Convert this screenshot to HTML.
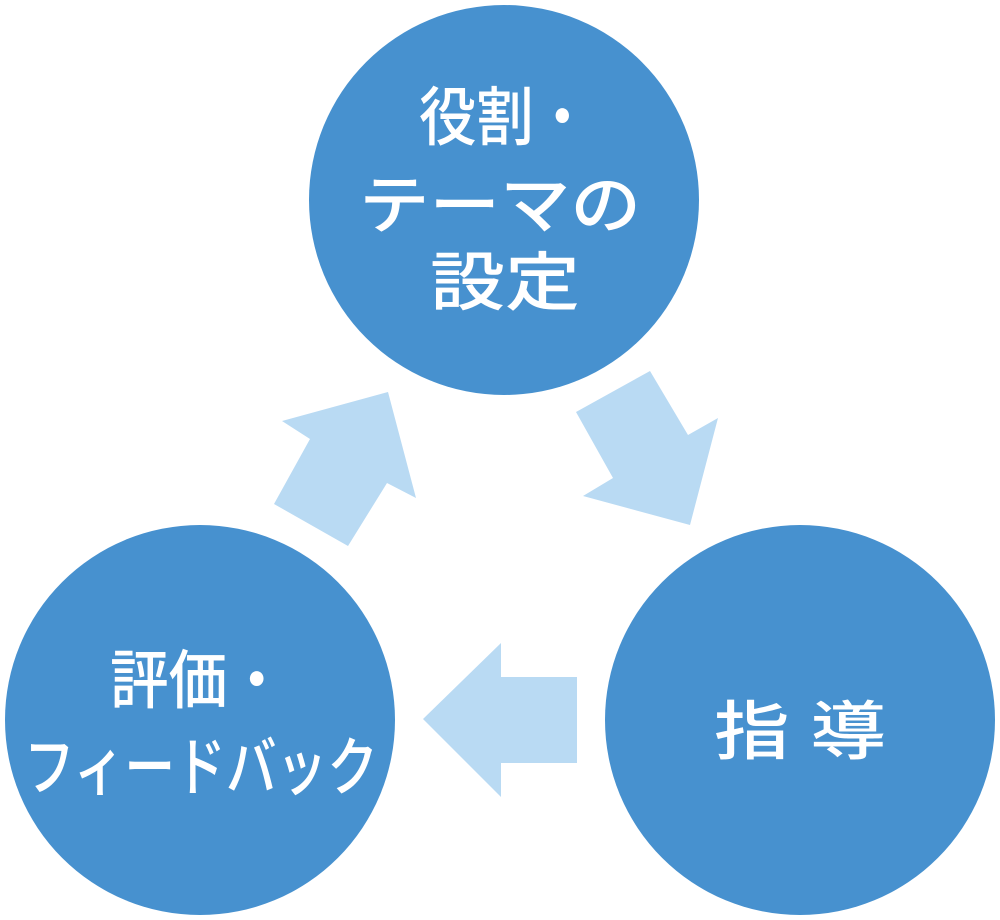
<!DOCTYPE html>
<html><head><meta charset="utf-8"><style>
html,body{margin:0;padding:0;background:#fff;}
svg{display:block;}
text{font-family:"Liberation Sans","Noto Sans CJK JP",sans-serif;fill:#fff;font-weight:500;}
</style></head><body>
<svg width="1000" height="920" viewBox="0 0 1000 920">
<circle cx="504" cy="200" r="195" fill="#4791cf"/>
<circle cx="200" cy="720" r="195" fill="#4791cf"/>
<circle cx="800" cy="720" r="195" fill="#4791cf"/>
<polygon fill="#b9daf3" points="423,719 501,643 501,677 577,677 577,763 501,763 501,797"/>
<polygon fill="#b9daf3" points="388,392 282,421 310,439 274,504 348,546 387,483 416,498"/>
<polygon fill="#b9daf3" points="650,371 576,412 613,478 583,496 690,525 718,418 688,435"/>
<text x="505" y="140" font-size="64" text-anchor="middle" textLength="172" lengthAdjust="spacingAndGlyphs">役割・</text>
<text x="500" y="228" font-size="64" text-anchor="middle" textLength="282" lengthAdjust="spacingAndGlyphs">テーマの</text>
<text x="505" y="305" font-size="64" text-anchor="middle" textLength="150" lengthAdjust="spacingAndGlyphs">設定</text>
<text x="198" y="703" font-size="64" text-anchor="middle" textLength="176" lengthAdjust="spacingAndGlyphs">評価・</text>
<text x="201" y="790" font-size="64" text-anchor="middle" textLength="354" lengthAdjust="spacingAndGlyphs">フィードバック</text>
<text x="800" y="754" font-size="64" text-anchor="middle" textLength="172" lengthAdjust="spacingAndGlyphs">指 導</text>
</svg>
</body></html>
